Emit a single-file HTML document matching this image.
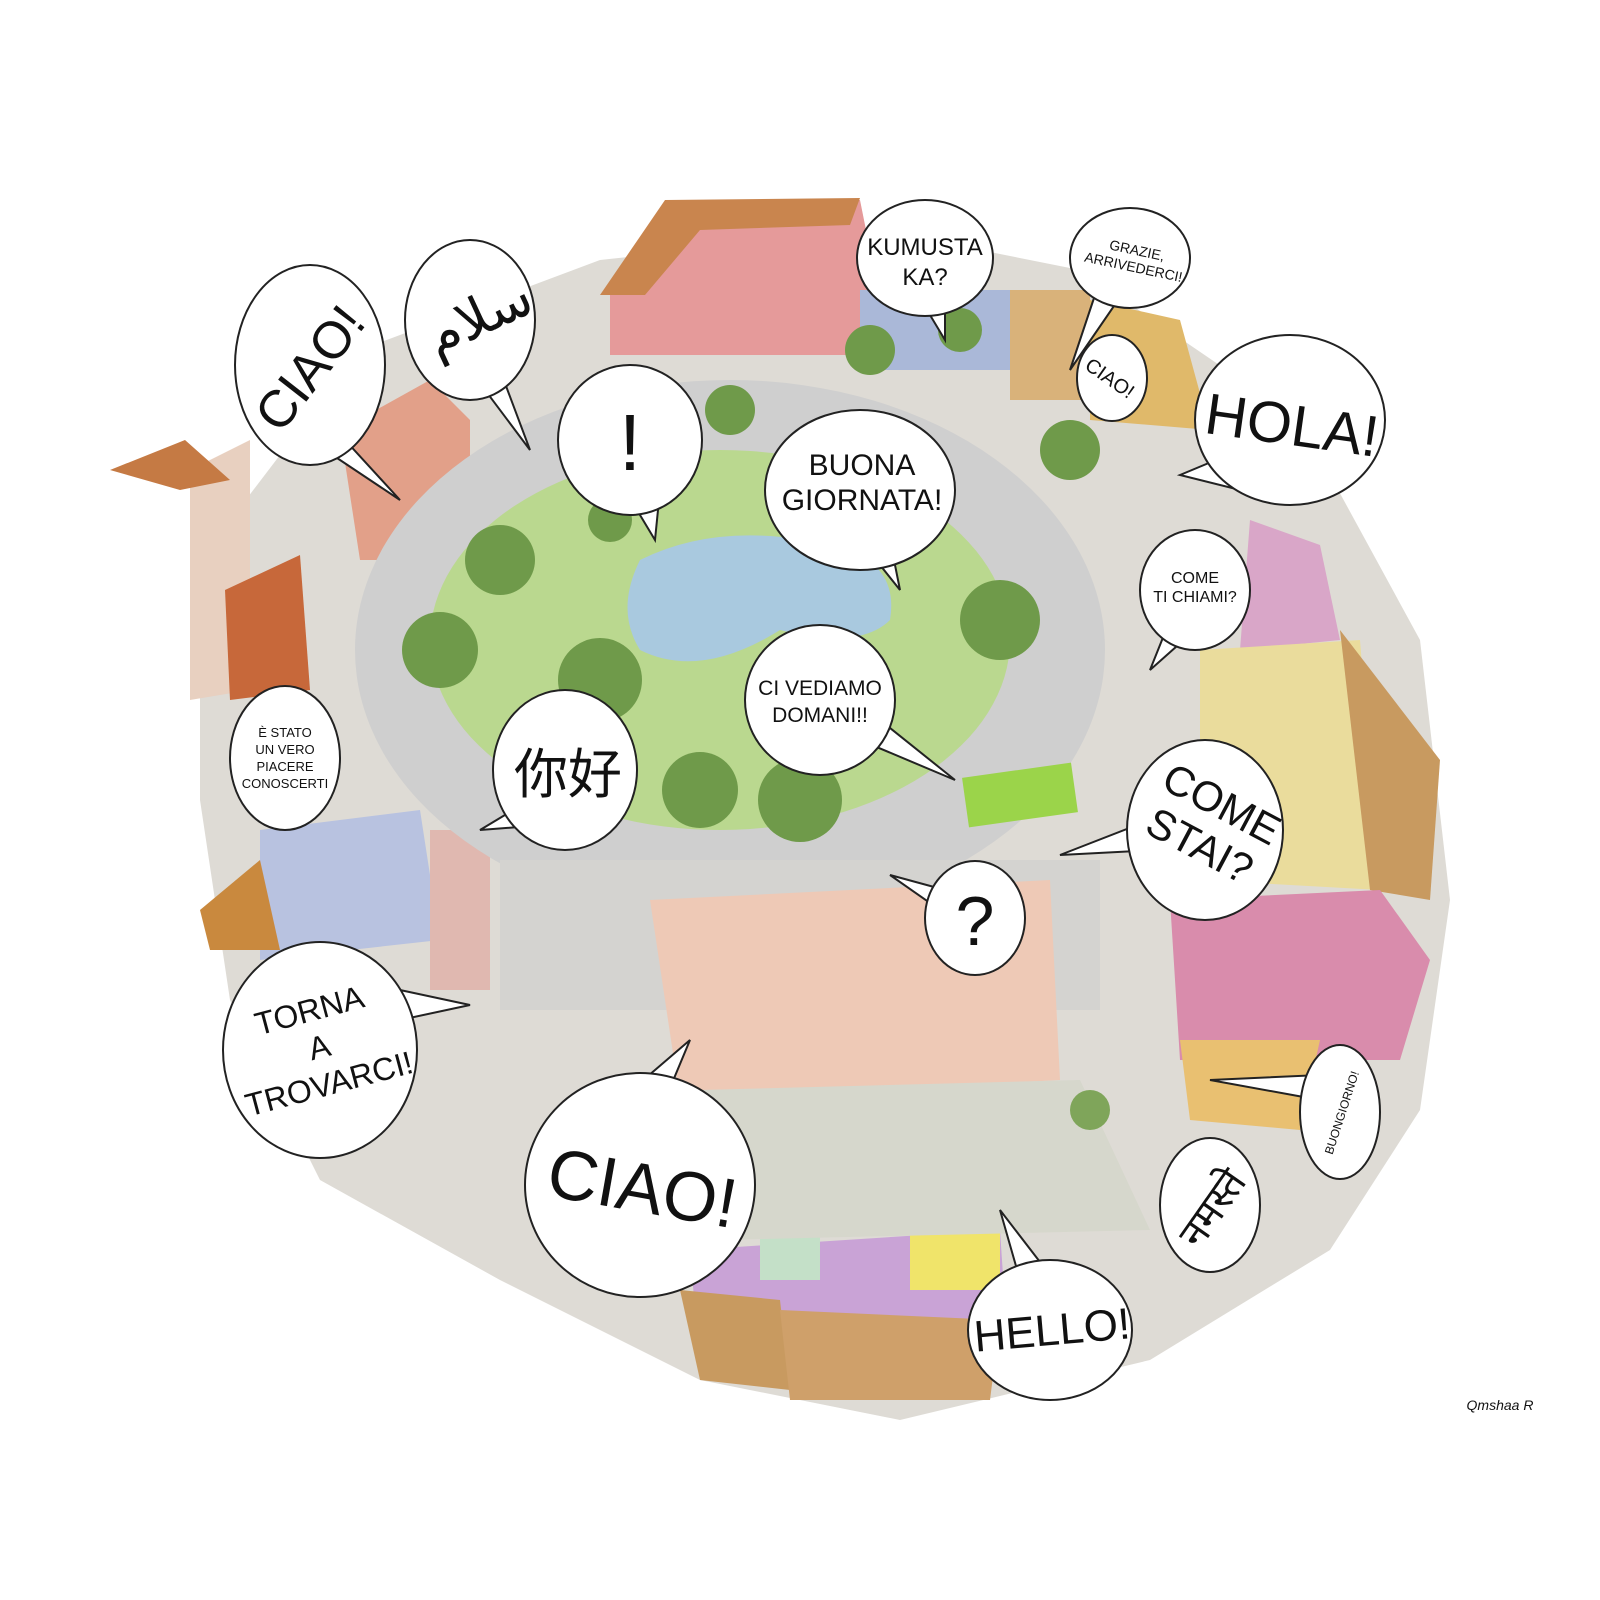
<!DOCTYPE html>
<html><head><meta charset="utf-8"><style>
html,body{margin:0;padding:0;background:#fff;}
svg{display:block}
text{font-family:"Liberation Sans Narrow","Liberation Sans","DejaVu Sans","Noto Sans CJK SC",sans-serif;fill:#111;text-anchor:middle}
.b ellipse,.b polygon{fill:#fff;stroke:#222;stroke-width:2}
</style></head><body>
<svg width="1600" height="1600" viewBox="0 0 1600 1600" xmlns="http://www.w3.org/2000/svg">
<rect width="1600" height="1600" fill="#fff"/>
<path d="M360 350 L600 260 L880 230 L1080 270 L1300 420 L1420 640 L1450 900 L1420 1110 L1330 1250 L1150 1360 L900 1420 L700 1380 L500 1280 L320 1180 L230 1000 L200 800 L200 560 Z" fill="#dedbd5"/>
<polygon points="610,290 680,205 860,200 880,300 880,355 610,355" fill="#e59a9a"/>
<polygon points="600,295 665,200 860,198 850,225 700,230 645,295" fill="#c9854e"/>
<rect x="860" y="290" width="180" height="80" fill="#aab8d8"/>
<rect x="1010" y="290" width="80" height="110" fill="#d9b27a"/>
<polygon points="1090,300 1180,320 1210,430 1090,420" fill="#e0b96a"/>
<polygon points="340,430 430,380 470,420 470,560 360,560" fill="#e2a089"/>
<polygon points="190,470 250,440 250,690 190,700" fill="#e8d0c0"/>
<polygon points="110,470 185,440 230,480 180,490" fill="#c57a44"/>
<polygon points="225,590 300,555 310,690 230,700" fill="#c7683a"/>
<polygon points="1250,520 1320,545 1340,640 1240,650" fill="#d9a6c8"/>
<polygon points="1200,650 1360,640 1380,890 1200,880" fill="#eadc9c"/>
<polygon points="1340,630 1440,760 1430,900 1370,890" fill="#c89a60"/>
<polygon points="1170,900 1380,890 1430,960 1400,1060 1180,1060" fill="#d98cac"/>
<polygon points="1180,1040 1320,1040 1300,1130 1190,1120" fill="#e9c071"/>
<polygon points="260,830 420,810 440,940 260,960" fill="#b8c2e0"/>
<polygon points="200,910 260,860 280,950 210,950" fill="#c9893e"/>
<rect x="430" y="830" width="60" height="160" fill="#e0b8b0"/>
<polygon points="690,1250 1000,1230 1010,1380 700,1370" fill="#c9a3d6"/>
<rect x="910" y="1210" width="90" height="80" fill="#f0e46a"/>
<polygon points="680,1290 780,1300 790,1390 700,1380" fill="#c89a60"/>
<polygon points="780,1310 1000,1320 990,1400 790,1400" fill="#cfa06a"/>
<rect x="760" y="1230" width="60" height="50" fill="#c4e0c8"/>
<ellipse cx="730" cy="650" rx="375" ry="270" fill="#cfcfcf"/>
<rect x="500" y="860" width="600" height="150" fill="#d4d3d0"/>
<ellipse cx="720" cy="640" rx="290" ry="190" fill="#bad88f"/>
<path d="M640 560 Q720 520 830 545 Q900 560 890 620 Q860 650 780 630 Q700 680 640 650 Q615 610 640 560Z" fill="#a9c9df"/>
<polygon points="650,900 1050,880 1060,1080 680,1100" fill="#eec9b6"/>
<polygon points="700,1090 1080,1080 1150,1230 720,1240" fill="#d6d7cc"/>
<g fill="#6f9a4a">
<circle cx="500" cy="560" r="35"/><circle cx="440" cy="650" r="38"/><circle cx="600" cy="680" r="42"/>
<circle cx="700" cy="790" r="38"/><circle cx="800" cy="800" r="42"/><circle cx="1000" cy="620" r="40"/>
<circle cx="870" cy="350" r="25"/><circle cx="1070" cy="450" r="30"/><circle cx="730" cy="410" r="25"/>
<circle cx="610" cy="520" r="22"/><circle cx="960" cy="330" r="22"/>
</g>
<rect x="965" y="770" width="110" height="50" fill="#9bd44a" transform="rotate(-8 1020 795)"/>
<circle cx="1090" cy="1110" r="20" fill="#7fa55a"/>
<g class="b">
<polygon points="400,500 310,440 345,440"/><ellipse cx="310" cy="365" rx="75" ry="100"/>
<polygon points="530,450 470,370 500,370"/><ellipse cx="470" cy="320" rx="65" ry="80"/>
<polygon points="655,540 625,490 660,490"/><ellipse cx="630" cy="440" rx="72" ry="75"/>
<polygon points="945,340 915,290 945,290"/><ellipse cx="925" cy="258" rx="68" ry="58"/>
<polygon points="1070,370 1100,280 1125,290"/><ellipse cx="1130" cy="258" rx="60" ry="50"/>
<ellipse cx="1112" cy="378" rx="35" ry="43"/>
<polygon points="1180,475 1240,450 1240,490"/><ellipse cx="1290" cy="420" rx="95" ry="85"/>
<polygon points="900,590 860,540 890,540"/><ellipse cx="860" cy="490" rx="95" ry="80"/>
<polygon points="1150,670 1170,620 1195,630"/><ellipse cx="1195" cy="590" rx="55" ry="60"/>
<polygon points="955,780 860,740 880,720"/><ellipse cx="820" cy="700" rx="75" ry="75"/>
<ellipse cx="285" cy="758" rx="55" ry="72"/>
<polygon points="480,830 530,800 545,825"/><ellipse cx="565" cy="770" rx="72" ry="80"/>
<polygon points="1060,855 1150,820 1155,850"/><ellipse cx="1205" cy="830" rx="78" ry="90"/>
<polygon points="890,875 945,890 940,910"/><ellipse cx="975" cy="918" rx="50" ry="57"/>
<polygon points="470,1005 400,990 400,1020"/><ellipse cx="320" cy="1050" rx="97" ry="108"/>
<polygon points="690,1040 620,1100 665,1100"/><ellipse cx="640" cy="1185" rx="115" ry="112"/>
<polygon points="1000,1210 1020,1280 1050,1275"/><ellipse cx="1050" cy="1330" rx="82" ry="70"/>
<ellipse cx="1210" cy="1205" rx="50" ry="67"/>
<polygon points="1210,1080 1320,1075 1320,1100"/><ellipse cx="1340" cy="1112" rx="40" ry="67"/>
</g>
<text x="312" y="385" font-size="52" transform="rotate(-52 312 370)">CIAO!</text>
<text x="480" y="335" font-size="54" font-family="DejaVu Sans" transform="rotate(-25 480 320)">سلام</text>
<text x="630" y="470" font-size="80">!</text>
<text x="925" y="255" font-size="24">KUMUSTA</text>
<text x="925" y="285" font-size="24">KA?</text>
<text x="1135" y="255" font-size="14" transform="rotate(12 1135 260)">GRAZIE,</text>
<text x="1135" y="272" font-size="14" transform="rotate(12 1135 260)">ARRIVEDERCI!</text>
<text x="1110" y="385" font-size="20" transform="rotate(35 1110 378)">CIAO!</text>
<text x="1292" y="445" font-size="58" transform="rotate(8 1292 425)">HOLA!</text>
<text x="862" y="475" font-size="30">BUONA</text>
<text x="862" y="510" font-size="30">GIORNATA!</text>
<text x="1195" y="583" font-size="16">COME</text>
<text x="1195" y="602" font-size="16">TI CHIAMI?</text>
<text x="820" y="695" font-size="21">CI VEDIAMO</text>
<text x="820" y="722" font-size="21">DOMANI!!</text>
<text x="285" y="737" font-size="13">È STATO</text>
<text x="285" y="754" font-size="13">UN VERO</text>
<text x="285" y="771" font-size="13">PIACERE</text>
<text x="285" y="788" font-size="13">CONOSCERTI</text>
<text x="568" y="793" font-size="54" font-family="Noto Sans CJK SC,sans-serif">你好</text>
<text x="1208" y="815" font-size="42" transform="rotate(28 1208 830)">COME</text>
<text x="1208" y="862" font-size="42" transform="rotate(28 1208 830)">STAI?</text>
<text x="975" y="945" font-size="70">?</text>
<text x="320" y="1020" font-size="32" transform="rotate(-15 320 1050)">TORNA</text>
<text x="320" y="1058" font-size="32" transform="rotate(-15 320 1050)">A</text>
<text x="320" y="1096" font-size="32" transform="rotate(-15 320 1050)">TROVARCI!</text>
<text x="642" y="1212" font-size="70" transform="rotate(10 642 1190)">CIAO!</text>
<text x="1052" y="1345" font-size="44" transform="rotate(-5 1052 1330)">HELLO!</text>
<text x="1212" y="1222" font-size="40" font-family="DejaVu Sans,sans-serif" transform="rotate(-55 1212 1208)">नमस्ते</text>
<text x="1340" y="1118" font-size="12" transform="rotate(-72 1340 1112)">BUONGIORNO!</text>
<text x="1500" y="1410" font-size="14" fill="#888" font-style="italic">Qmshaa R</text>
</svg>
</body></html>
